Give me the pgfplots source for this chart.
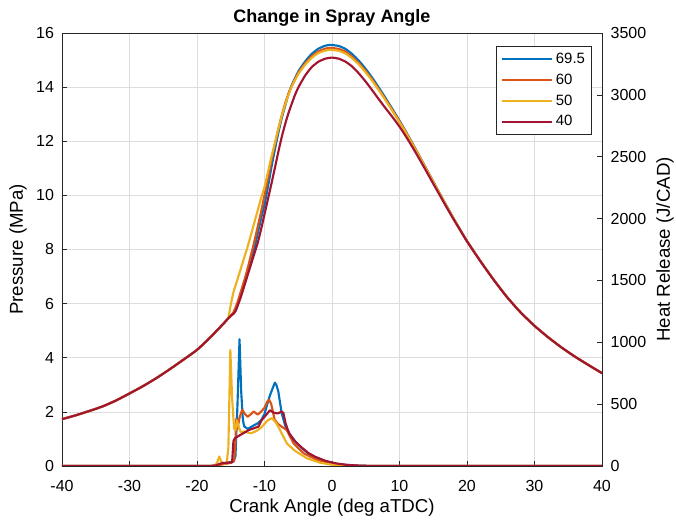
\documentclass[border=0pt]{standalone}
\usepackage{fontspec}
\setmainfont{Liberation Sans}
\usepackage{pgfplots}
\pgfplotsset{compat=1.18}

\definecolor{c1}{HTML}{0072BD}
\definecolor{c2}{HTML}{D95319}
\definecolor{c3}{HTML}{EDB120}
\definecolor{c4}{HTML}{A2142F}
\definecolor{axc}{HTML}{262626}
\definecolor{gridc}{HTML}{DDDDDD}

\pgfplotsset{
  base/.style={
    width=405pt, height=324.75pt, scale only axis,
    at={(0,0)}, anchor=south west,
    xmin=-40, xmax=40, xtick={-40,-30,...,40},
    tick align=inside, major tick length=3.9pt,
    tick style={axc, line width=0.5pt},
    axis line style={axc, line width=0.5pt},
    tick label style={font=\fontsize{12}{14}\selectfont, text=black},
    xticklabel style={yshift=-7pt},
    /pgf/number format/assume math mode=true,
    /pgf/number format/set thousands separator={},
    label style={font=\fontsize{14}{16}\selectfont},
  },
  line/.style={line width=1.6pt, line join=round},
  pline/.style={line width=1.6pt, line join=round, smooth, tension=0.35},
  every axis title shift=0pt,
}

\begin{document}
\begin{tikzpicture}
% ---- pressure (left axis)
\begin{axis}[base,
    ymin=0, ymax=16, ytick={0,2,...,16},
    ytick pos=left, xtick pos=bottom,
    yticklabel style={xshift=-2.5pt},
    grid=major, major grid style={gridc, line width=0.5pt},
    xlabel={Crank Angle (deg aTDC)},
    ylabel={Pressure (MPa)},
    title={Change in Spray Angle},
    xlabel style={at={(axis description cs:0.5,-0.097)}, anchor=center},
    ylabel style={at={(axis description cs:-0.0815,0.5)}, anchor=center},
    title style={at={(axis description cs:0.5,1.0346)}, anchor=center,
                 font=\fontsize{13.5}{16}\selectfont\bfseries},
]
\addplot[pline, c1] coordinates {
 (-40,1.73) (-38,1.87) (-36,2.03) (-34,2.2) (-32,2.42) (-30,2.68) (-28,2.95)
 (-26,3.25) (-24,3.58) (-22,3.93) (-20,4.29) (-18,4.76) (-17,5.02) (-16,5.28)
 (-15.4,5.45) (-15,5.55) (-14.6,5.65) (-14.3,5.75) (-14,5.95) (-13.5,6.3)
 (-13,6.7) (-12.5,7.15) (-12,7.6) (-11.5,8.05) (-11,8.6) (-10.5,9.15)
 (-10,9.65) (-9.5,10.3) (-9,11.0) (-8.5,11.65) (-8,12.25) (-7.5,12.8)
 (-7,13.25) (-6.5,13.7) (-6,14.05) (-5,14.57) (-4,14.94) (-3,15.23) (-2,15.42)
 (-1,15.53) (-0.2,15.56) (1,15.52) (2,15.41) (3,15.22) (4,14.97) (5,14.67)
 (6,14.33) (7,13.96) (8,13.57) (9,13.17) (10,12.76) (11,12.33) (12,11.89)
 (13,11.43) (14,10.97) (15,10.51) (16,10.05) (17,9.6) (18,9.16) (19,8.73)
 (20,8.32) (22,7.57) (24,6.87) (26,6.22) (28,5.66) (30,5.18) (32,4.76)
 (34,4.38) (36,4.04) (38,3.73) (40,3.43)};
\addplot[pline, c2] coordinates {
 (-40,1.73) (-38,1.87) (-36,2.03) (-34,2.2) (-32,2.42) (-30,2.68) (-28,2.95)
 (-26,3.25) (-24,3.58) (-22,3.93) (-20,4.29) (-18,4.76) (-17,5.02) (-16,5.28)
 (-15.4,5.45) (-15,5.55) (-14.6,5.68) (-14.3,5.85) (-14,6.05) (-13.5,6.45)
 (-13,6.85) (-12.5,7.3) (-12,7.8) (-11.5,8.3) (-11,8.85) (-10.5,9.4)
 (-10,10.0) (-9.5,10.6) (-9,11.25) (-8.5,11.85) (-8,12.4) (-7.5,12.9)
 (-7,13.35) (-6.5,13.72) (-6,14.02) (-5,14.52) (-4,14.87) (-3,15.14) (-2,15.32)
 (-1,15.42) (-0.2,15.45) (1,15.41) (2,15.31) (3,15.12) (4,14.88) (5,14.59)
 (6,14.26) (7,13.9) (8,13.52) (9,13.13) (10,12.73) (11,12.31) (12,11.87)
 (13,11.42) (14,10.96) (15,10.5) (16,10.04) (17,9.59) (18,9.15) (19,8.72)
 (20,8.31) (22,7.57) (24,6.87) (26,6.22) (28,5.66) (30,5.18) (32,4.76)
 (34,4.38) (36,4.04) (38,3.73) (40,3.43)};
\addplot[pline, c3] coordinates {
 (-40,1.73) (-38,1.87) (-36,2.03) (-34,2.2) (-32,2.42) (-30,2.68) (-28,2.95)
 (-26,3.25) (-24,3.58) (-22,3.93) (-20,4.29) (-18,4.76) (-17,5.02) (-16,5.28)
 (-15.4,5.45) (-15,5.95) (-14.6,6.42) (-14,6.9) (-13.5,7.3) (-13,7.7)
 (-12.5,8.1) (-12,8.55) (-11.5,9.0) (-11,9.45) (-10.5,9.9) (-10,10.3)
 (-9.5,10.85) (-9,11.4) (-8.5,11.9) (-8,12.4) (-7.5,12.88) (-7,13.3)
 (-6.5,13.68) (-6,14.0) (-5,14.48) (-4,14.82) (-3,15.08) (-2,15.26) (-1,15.35)
 (-0.2,15.38) (1,15.34) (2,15.24) (3,15.06) (4,14.83) (5,14.54)
 (6,14.22) (7,13.86) (8,13.49) (9,13.1) (10,12.7) (11,12.29) (12,11.86)
 (13,11.41) (14,10.95) (15,10.5) (16,10.04) (17,9.59) (18,9.15) (19,8.72)
 (20,8.31) (22,7.57) (24,6.87) (26,6.22) (28,5.66) (30,5.18) (32,4.76)
 (34,4.38) (36,4.04) (38,3.73) (40,3.43)};
\addplot[pline, c4] coordinates {
 (-40,1.73) (-38,1.87) (-36,2.03) (-34,2.2) (-32,2.42) (-30,2.68) (-28,2.95)
 (-26,3.25) (-24,3.58) (-22,3.93) (-20,4.29) (-18,4.76) (-17,5.02) (-16,5.28)
 (-15.4,5.45) (-15,5.55) (-14.6,5.62) (-14.3,5.72) (-14,5.9) (-13.5,6.25)
 (-13,6.65) (-12.5,7.05) (-12,7.45) (-11.5,7.85) (-11,8.25) (-10.5,8.75)
 (-10,9.3) (-9.5,9.85) (-9,10.4) (-8.5,10.97) (-8,11.55) (-7.5,12.1)
 (-7,12.58) (-6.5,13.0) (-6,13.36) (-5.5,13.7) (-5,13.98) (-4,14.42)
 (-3,14.74) (-2,14.94) (-1,15.05) (0,15.09) (1,15.05) (2,14.94) (3,14.76)
 (4,14.5) (5,14.2) (6,13.87) (7,13.53) (8,13.2) (9,12.88) (10,12.54)
 (11,12.16) (12,11.75) (13,11.32) (14,10.88) (15,10.43) (16,9.99) (17,9.55)
 (18,9.12) (19,8.71) (20,8.3) (22,7.56) (24,6.86) (26,6.22) (28,5.66)
 (30,5.18) (32,4.76) (34,4.38) (36,4.04) (38,3.73) (40,3.43)};
\end{axis}
% ---- heat release (right axis)
\begin{axis}[base,
    ymin=0, ymax=3500, ytick={0,500,...,3500},
    axis y line*=right, axis x line=none,
    yticklabel style={xshift=3pt},
    ylabel={Heat Release (J/CAD)},
    ylabel style={at={(axis description cs:1.1167,0.5)}, anchor=center},
    legend style={at={(axis description cs:1,1)}, anchor=north east,
      xshift=-7.5pt, yshift=-9.75pt, draw=axc, fill=white,
      line width=0.5pt, font=\fontsize{11.2}{13}\selectfont,
      row sep=2.3pt, inner ysep=3pt},
    legend cell align=left,
    legend image code/.code={\draw[#1] (0pt,0pt) -- (38pt,0pt);},
]
\addplot[line, c1] coordinates {
 (-40,0) (-18,0) (-17.5,3) (-17,8) (-16.5,15) (-16,22) (-15.5,28) (-15,32)
 (-14.6,35) (-14.3,80) (-14,500) (-13.7,1025) (-13.45,600) (-13.2,372)
 (-13,320) (-12.5,300) (-12,315) (-11.5,331) (-11,345) (-10.5,370) (-10,420)
 (-9.7,479) (-9.2,570) (-8.7,641) (-8.45,674) (-8.2,650) (-7.95,601)
 (-7.45,426) (-7,340) (-6.7,291) (-6,237) (-5.2,183) (-4.45,143) (-3.5,102)
 (-2.2,62) (-0.7,35) (0.8,16) (2.3,8) (4,3) (6,0) (40,0)};
\addlegendentry{69.5}
\addplot[line, c2] coordinates {
 (-40,0) (-18,0) (-17,5) (-16,15) (-15,25) (-14.5,40) (-14.3,200) (-14.2,380)
 (-14.0,300) (-13.7,390) (-13.3,455) (-12.9,420) (-12.5,398) (-12,420)
 (-11.6,440) (-11.0,415) (-10.5,440) (-10,470) (-9.6,520) (-9.3,535)
 (-9.0,500) (-8.5,375) (-8,340) (-7.5,320) (-6.7,291) (-5.7,183) (-4.2,102)
 (-2.2,49) (-0.2,22) (2,8) (4,0) (40,0)};
\addlegendentry{60}
\addplot[line, c3] coordinates {
 (-40,0) (-18,0) (-17.3,5) (-17,30) (-16.7,77) (-16.4,35) (-16,20)
 (-15.6,22) (-15.35,150) (-15.06,938) (-14.8,550) (-14.5,300) (-14.3,290)
 (-14.1,370) (-13.9,330) (-13.5,270) (-13,280) (-12.5,270) (-12,265)
 (-11.5,275) (-11,290) (-10.5,310) (-10,340) (-9.5,370) (-8.9,387)
 (-8.3,350) (-7.7,291) (-6.7,183) (-5.5,123) (-3.7,62) (-1.8,27) (0.2,8)
 (2,2) (4,0) (40,0)};
\addlegendentry{50}
\addplot[line, c4] coordinates {
 (-40,0) (-18,0) (-17.2,5) (-16.5,20) (-16,25) (-15,28) (-14.8,30)
 (-14.6,200) (-14.4,224) (-13.6,250) (-12.3,291) (-10.9,318) (-10.4,372)
 (-9.8,410) (-9.2,450) (-8.6,430) (-8.0,425) (-7.5,440) (-7.2,430)
 (-6.9,350) (-6.6,300) (-6.3,260) (-5.5,200) (-4.5,150) (-3.5,105)
 (-2.5,75) (-1,42) (0.5,22) (2,10) (4,3) (6,0) (40,0)};
\addlegendentry{40}
\end{axis}
\pgfresetboundingbox
\useasboundingbox (-46.5pt,-42.75pt) rectangle (460.5pt,349.5pt);
\end{tikzpicture}
\end{document}
